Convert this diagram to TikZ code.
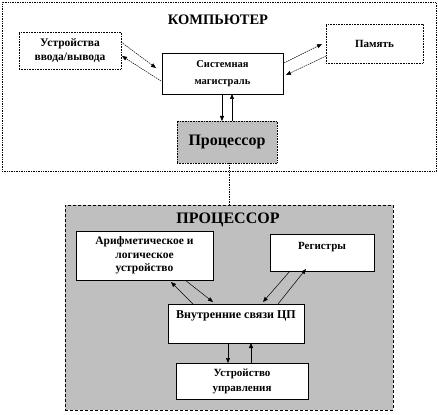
\documentclass[tikz,border=0pt]{standalone}
\usepackage{fontspec}
\setmainfont{Liberation Serif}
\usetikzlibrary{arrows.meta}
\begin{document}
\begin{tikzpicture}[x=1pt,y=-1pt,
  box/.style={draw=black,line width=0.6pt,fill=white,inner sep=0pt,align=center,font=\bfseries\fontsize{11}{13}\selectfont},
  dotbox/.style={box,densely dotted},
  arr/.style={line width=0.5pt,-{Triangle[length=5pt,width=4pt]}},
  darr/.style={arr,densely dashed,dash pattern=on 1.5pt off 0.8pt}]
\useasboundingbox (0,0) rectangle (438,414);
% computer frame
\node[draw=black,densely dotted,line width=0.7pt,minimum width=434pt,minimum height=169pt,inner sep=0pt] (comp) at (219,87) {};
\node[font=\bfseries\fontsize{14.5}{18}\selectfont] (ctitle) at (218,20) {КОМПЬЮТЕР};
\node[dotbox,minimum width=102pt,minimum height=37pt,font=\bfseries\fontsize{11.5}{14}\selectfont] (io) at (70,50.5) {Устройства\\ввода/вывода};
\node[box,minimum width=121pt,minimum height=41pt,font=\bfseries\fontsize{10.5}{17}\selectfont] (bus) at (222.5,73.5) {Системная\\магистраль};
\node[dotbox,minimum width=97pt,minimum height=39pt] (mem) at (374.5,43.5) {Память};
\node[box,densely dotted,fill=black!25,minimum width=100pt,minimum height=42pt,font=\bfseries\fontsize{16}{18}\selectfont] (cpu) at (227,142) {Процессор};
% arrows in computer
\coordinate (io1) at (121,42);
\coordinate (io2) at (122,56);
\coordinate (b1) at (156,68);
\coordinate (b2) at (161,81);
\draw[darr] (io1) -- (b1);
\draw[darr] (b2) -- (io2);
\coordinate (b3) at (284,63);
\coordinate (b4) at (286,75);
\coordinate (m1) at (322,44);
\coordinate (m2) at (326,56);
\draw[darr] (b3) -- (m1);
\draw[darr] (m2) -- (b4);
\draw[arr] (222,94) -- (222,121);
\draw[arr] (232,121) -- (232,94);
% processor frame
\node[draw=black,dashed,dash pattern=on 3pt off 2pt,line width=1pt,fill=black!25,minimum width=328pt,minimum height=205pt,inner sep=0pt] (proc) at (229,307.5) {};
\draw[densely dotted,line width=0.7pt] (cpu.south -| 229,0) -- (proc.north);
\node[font=\bfseries\fontsize{16}{18}\selectfont] (ptitle) at (228,220) {ПРОЦЕССОР};
\node[box,minimum width=137pt,minimum height=49pt,font=\bfseries\fontsize{11.5}{13.5}\selectfont] (alu) at (144.5,255.5) {Арифметическое и\\логическое\\устройство};
\node[box,minimum width=104pt,minimum height=37pt,text depth=14pt] (reg) at (322,252.5) {Регистры};
\node[box,minimum width=136pt,minimum height=39pt,text depth=18pt,font=\bfseries\fontsize{12}{13}\selectfont] (int) at (236,323.5) {Внутренние связи ЦП};
\node[box,minimum width=132pt,minimum height=36pt,font=\bfseries\fontsize{11}{15}\selectfont] (cu) at (242,381) {Устройство\\управления};
\draw[arr] (193,304) -- (171,282);
\draw[arr] (185,280) -- (213,302);
\draw[arr] (290,271) -- (263,302);
\draw[arr] (278,304) -- (306,269);
\draw[arr] (228,343) -- (228,363);
\draw[arr] (251,363) -- (251,343);
\end{tikzpicture}
\end{document}
